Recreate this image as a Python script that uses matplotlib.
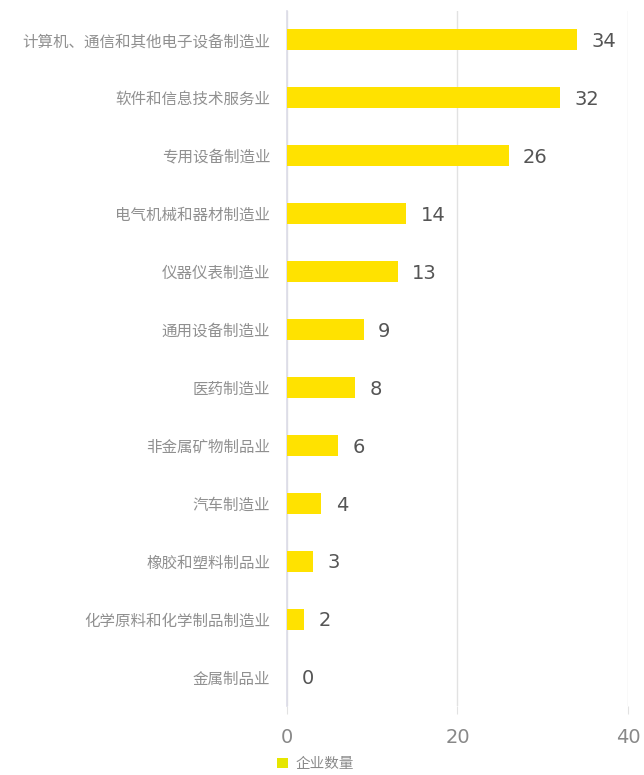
import matplotlib
matplotlib.use("Agg")
import matplotlib.pyplot as plt
from matplotlib.patches import Patch

plt.rcParams['font.family'] = ['Noto Sans CJK SC', 'DejaVu Sans']

categories = [
    "计算机、通信和其他电子设备制造业",
    "软件和信息技术服务业",
    "专用设备制造业",
    "电气机械和器材制造业",
    "仪器仪表制造业",
    "通用设备制造业",
    "医药制造业",
    "非金属矿物制品业",
    "汽车制造业",
    "橡胶和塑料制品业",
    "化学原料和化学制品制造业",
    "金属制品业",
]
counts = [34, 32, 26, 14, 13, 9, 8, 6, 4, 3, 2, 0]
x_ticks = [0, 20, 40]
series_name = "企业数量"

bar_color = "#FFE200"
text_gray = "#8a8a8a"

fig = plt.figure(figsize=(6.44, 7.75), dpi=100)
ax = fig.add_axes([0.4457, 0.089, 0.5293, 0.897])

ypos = list(range(len(categories)))
ax.barh(ypos, counts, height=0.36, color=bar_color, zorder=3)
ax.set_ylim(len(categories) - 0.5, -0.5)
ax.set_xlim(0, 40)

for y, v in zip(ypos, counts):
    ax.text(v + 1.7, y + 0.03, str(v), va="center", ha="left", fontsize=14,
            color="#555555", family=["DejaVu Sans"], zorder=4)

ax.set_yticks(ypos)
ax.set_yticklabels(categories, fontsize=11.2, color="#909090")
ax.tick_params(axis="y", length=0, pad=12)

ax.set_xticks(x_ticks)
ax.set_xticklabels([str(t) for t in x_ticks], fontsize=14, color="#888888",
                   family=["DejaVu Sans"])
ax.tick_params(axis="x", length=6, color="#e2e2e2", pad=10)

ax.grid(axis="x", color="#e2e2e2", linewidth=1, zorder=0)
for s in ["top", "right", "bottom"]:
    ax.spines[s].set_visible(False)
ax.spines["left"].set_color("#dcdce8")
ax.spines["left"].set_linewidth(1.2)

handle = Patch(facecolor="#E6E600", edgecolor="none")
fig.legend([handle], [series_name], loc="lower left",
           bbox_to_anchor=(0.41, -0.012), frameon=False, fontsize=10.5,
           handlelength=0.75, handleheight=0.75, handletextpad=0.5,
           labelcolor=text_gray)

fig.savefig("out.png", dpi=100, facecolor="white")
